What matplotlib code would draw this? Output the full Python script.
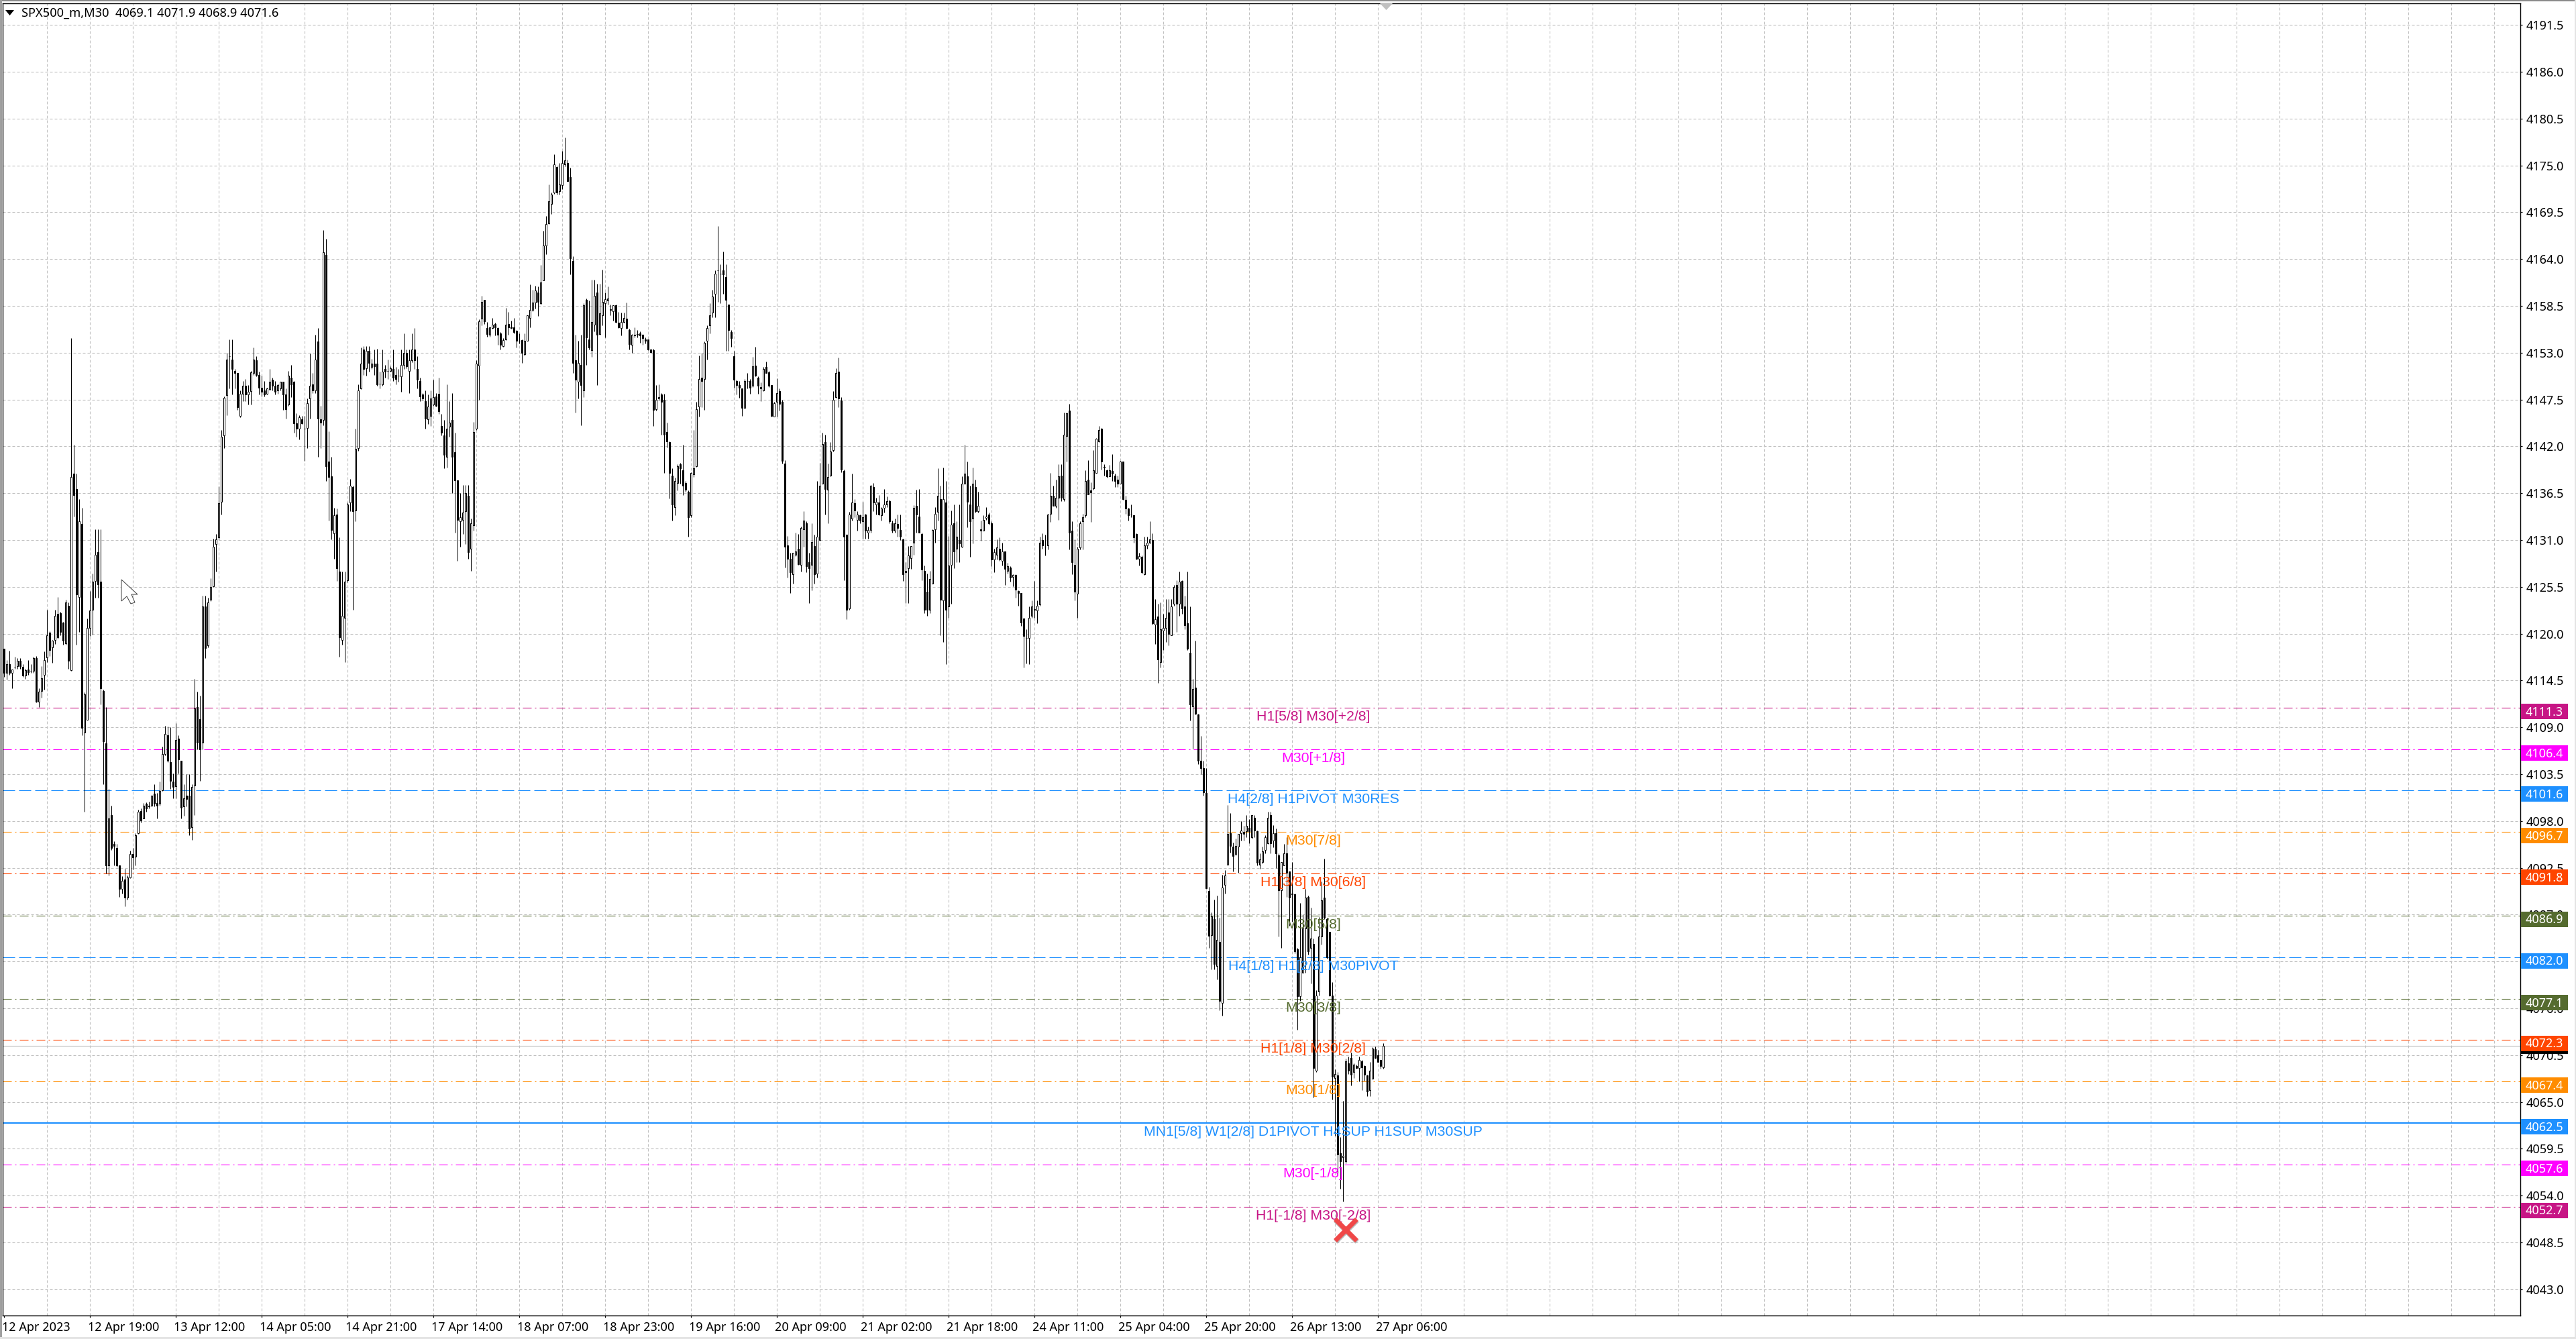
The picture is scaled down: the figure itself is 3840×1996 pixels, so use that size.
# SPX500 M30 candles with murrey math levels, MT4 style

import matplotlib
matplotlib.use('Agg')
import matplotlib.pyplot as plt
from matplotlib.patches import Polygon, Rectangle
from matplotlib.transforms import IdentityTransform, ScaledTranslation

# candles in four stretches
open_a = [4118.2,4115.4,4116.4,4115.4,4116.1,4116.2,4116.8,4116.1,4115.1,4115.8,
 4115.6,4115.6,4117.1,4112.0,4113.3,4115.2,4117.2,4120.1,4118.4,4119.3,
 4122.3,4122.4,4121.3,4118.9,4123.3,4115.7,4138.8,4137.0,4124.3,4132.9,
 4108.4,4109.9,4120.7,4122.8,4126.2,4129.6,4126.1,4113.3,4107.1,4092.8,
 4098.7,4095.3,4094.8,4092.8,4090.0,4091.1,4089.0,4091.4,4094.1,4093.8,
 4096.6,4099.2,4098.3,4100.0,4099.8,4099.8,4101.2,4100.1,4100.0,4101.6,
 4105.9,4108.1,4104.9,4102.6,4102.1,4107.7,4105.1,4099.7,4101.0,4101.0,
 4097.3,4102.2,4111.4,4110.0,4107.2,4123.2,4118.6,4124.0,4125.6,4130.5,
 4131.3,4135.5,4143.3,4148.0,4152.6,4152.2,4150.9,4150.6,4145.6,4148.2,
 4149.1,4148.1,4148.5,4150.6,4152.1,4150.4,4148.9,4148.6,4148.2,4148.7,
 4149.8,4149.1,4148.6,4148.8,4149.6,4148.1,4146.9,4150.1,4149.6,4144.7,
 4144.1,4145.2,4144.1,4144.2,4147.6,4149.3,4148.6,4154.3,4145.2,4145.1,
 4164.5,4140.2,4138.5,4131.8,4134.0,4127.3,4119.3,4121.9,4126.3,4135.4,
 4137.2,4134.5,4141.8,4148.8,4153.4,4151.2,4153.2,4151.3,4151.7,4151.7,
 4149.4,4149.3,4151.1,4150.9,4150.9,4151.1,4150.4,4150.3,4150.2,4151.6,
 4153.0,4150.9,4152.1,4153.4,4151.1,4149.7,4148.1,4147.3,4145.2,4145.6,
 4146.9,4147.9,4148.2,4144.4,4143.3,4140.8,4144.3,4145.1,4141.3,4138.0,
 4133.2,4133.4,4134.4,4136.2]
high_a = [4118.2,4116.9,4118.0,4115.8,4117.3,4117.1,4117.1,4116.4,4115.9,4116.9,
 4116.4,4117.3,4117.4,4113.6,4116.2,4117.9,4122.8,4120.3,4119.3,4122.8,
 4124.3,4122.6,4121.4,4124.0,4123.7,4154.7,4142.2,4138.8,4135.8,4134.8,
 4113.1,4121.8,4125.0,4127.1,4132.3,4132.3,4132.3,4113.4,4111.4,4101.8,
 4099.8,4095.6,4095.3,4092.8,4091.5,4092.4,4091.6,4094.5,4094.8,4096.6,
 4099.3,4099.5,4100.1,4100.2,4100.3,4101.0,4102.3,4101.3,4102.6,4106.7,
 4109.2,4109.1,4109.0,4103.6,4109.5,4108.1,4105.1,4102.3,4103.5,4103.5,
 4102.3,4114.7,4113.2,4112.7,4124.5,4124.5,4124.2,4126.5,4131.2,4131.7,
 4137.3,4143.9,4147.9,4153.0,4154.6,4154.6,4151.1,4150.6,4148.6,4149.7,
 4149.9,4149.2,4150.9,4153.6,4152.6,4150.8,4150.3,4149.7,4148.9,4151.1,
 4150.1,4149.7,4149.4,4149.6,4149.6,4148.8,4150.9,4151.6,4149.7,4145.9,
 4145.7,4145.6,4145.6,4147.6,4152.9,4150.6,4155.1,4155.9,4146.8,4167.4,
 4166.4,4143.8,4140.8,4134.8,4134.7,4131.3,4127.3,4127.3,4135.4,4138.2,
 4137.4,4144.1,4149.3,4153.6,4153.8,4153.8,4153.8,4152.3,4153.4,4153.5,
 4150.8,4153.4,4151.6,4152.2,4151.4,4153.4,4151.3,4151.1,4153.4,4155.3,
 4153.4,4153.4,4155.3,4155.9,4152.6,4150.1,4148.3,4148.6,4148.1,4148.6,
 4149.8,4148.3,4150.1,4145.8,4145.1,4149.3,4147.3,4148.3,4143.6,4138.0,
 4136.5,4137.5,4137.5,4137.5]
low_a = [4114.9,4114.6,4115.2,4113.6,4115.9,4115.9,4115.9,4114.9,4114.7,4115.2,
 4115.4,4115.4,4111.9,4111.4,4112.5,4113.4,4116.7,4117.4,4116.6,4118.8,
 4119.4,4119.8,4118.7,4118.7,4115.9,4115.6,4133.8,4118.7,4120.2,4108.1,
 4099.1,4109.9,4119.7,4119.9,4124.2,4124.2,4111.7,4102.3,4091.8,4091.6,
 4094.6,4092.8,4092.6,4089.1,4089.5,4088.0,4088.8,4091.3,4092.3,4092.8,
 4096.5,4097.8,4098.3,4099.1,4099.5,4099.7,4099.7,4098.3,4099.8,4101.5,
 4105.7,4104.9,4101.8,4100.7,4100.7,4103.6,4098.3,4098.6,4099.7,4096.3,
 4095.8,4098.7,4106.4,4102.7,4106.4,4117.1,4118.4,4123.8,4125.5,4127.3,
 4131.1,4134.0,4141.8,4145.7,4148.8,4148.1,4148.8,4146.3,4145.4,4147.3,
 4147.3,4146.9,4146.9,4150.4,4150.2,4148.1,4147.9,4147.9,4148.1,4148.6,
 4148.6,4148.1,4148.2,4148.6,4146.3,4145.3,4146.8,4147.8,4143.6,4143.1,
 4142.8,4144.6,4140.3,4141.8,4145.3,4148.3,4148.3,4140.8,4141.8,4144.5,
 4137.9,4133.3,4131.1,4128.8,4126.2,4117.3,4118.7,4116.7,4126.0,4134.4,
 4122.8,4133.2,4141.5,4148.7,4150.4,4150.3,4150.8,4151.1,4150.4,4149.1,
 4148.8,4149.1,4150.1,4149.9,4150.8,4149.7,4149.3,4149.6,4148.4,4151.1,
 4151.2,4148.3,4151.9,4151.1,4148.8,4147.3,4147.4,4144.1,4144.6,4144.4,
 4146.8,4146.7,4145.8,4143.3,4139.4,4139.5,4143.1,4136.5,4131.9,4128.6,
 4130.2,4131.7,4130.5,4128.8]
close_a = [4115.4,4116.4,4115.4,4115.8,4116.1,4116.8,4116.2,4115.1,4115.7,4115.5,
 4115.6,4117.1,4112.0,4113.2,4114.8,4116.9,4119.8,4118.1,4119.2,4122.1,
 4119.6,4120.2,4119.2,4123.7,4116.8,4138.4,4136.3,4124.6,4133.2,4108.9,
 4112.9,4120.7,4122.7,4126.1,4129.3,4125.8,4113.6,4107.4,4092.8,4098.3,
 4094.8,4095.1,4092.8,4090.0,4091.0,4089.0,4091.4,4094.1,4093.7,4096.3,
 4099.1,4098.1,4099.8,4099.5,4099.7,4101.0,4100.0,4099.8,4101.5,4105.9,
 4108.2,4105.1,4102.7,4102.0,4107.5,4105.2,4099.6,4100.7,4100.6,4097.1,
 4102.0,4111.2,4107.2,4106.4,4123.2,4118.3,4123.7,4125.5,4130.2,4131.1,
 4135.3,4143.1,4147.7,4152.2,4152.6,4151.1,4150.6,4146.6,4148.2,4149.1,
 4148.1,4148.4,4150.7,4152.2,4150.4,4148.9,4148.4,4148.1,4148.8,4149.6,
 4149.1,4148.4,4149.2,4149.6,4148.1,4146.4,4150.3,4149.3,4144.7,4144.1,
 4145.4,4144.7,4144.1,4147.1,4149.1,4148.6,4152.2,4145.3,4144.8,4164.8,
 4139.7,4138.4,4132.2,4133.9,4127.7,4119.6,4122.1,4126.1,4135.2,4137.4,
 4134.4,4141.7,4148.6,4151.7,4151.1,4153.2,4151.8,4151.7,4151.4,4149.3,
 4149.4,4150.8,4150.8,4150.9,4151.2,4150.1,4149.9,4150.3,4151.6,4153.0,
 4151.4,4152.1,4153.4,4152.1,4149.8,4147.9,4147.6,4145.3,4146.7,4147.6,
 4147.8,4146.8,4146.1,4143.6,4141.0,4144.1,4144.8,4140.8,4138.0,4133.4,
 4133.7,4134.2,4136.5,4129.6]

open_b = [4130.0,4132.7,4144.1,4151.5,4157.0,4159.2,4155.9,4155.1,4155.9,4156.4,
 4155.9,4155.3,4153.8,4154.6,4156.4,4156.1,4156.0,4155.6,4154.4,4154.5,
 4152.8,4154.4,4157.1,4158.0,4158.9,4160.1,4158.8,4161.5,4165.6,4168.2,
 4170.5,4171.8,4174.8,4172.0,4172.7,4175.1,4175.3,4173.6,4163.8,4152.1,
 4149.6,4151.6,4148.6,4159.2,4154.6,4153.3,4156.3,4160.1,4155.2,4157.4,
 4158.8,4159.1,4158.1,4157.9,4158.6,4156.5,4155.9,4156.6,4157.0,4155.7,
 4153.9,4155.1,4155.2,4155.3,4155.1,4154.6,4154.6,4153.4,4153.3,4146.4,
 4147.6,4148.1,4147.5,4143.7,4142.5,4138.6,4134.9,4137.7,4139.9,4139.2,
 4137.7,4136.7,4133.9,4138.7,4139.7,4146.7,4150.1,4149.9,4154.4,4156.2,
 4157.7,4159.9,4162.7,4162.3,4162.7,4161.9,4158.7,4155.4,4152.6,4149.7,
 4149.2,4148.8,4146.5,4149.7,4149.7,4149.1,4151.5,4150.1,4149.0,4148.6,
 4151.3,4150.7,4149.2,4145.5,4147.2,4148.5,4147.2,4140.0,4130.4,4128.8,
 4127.0,4129.3,4130.0,4128.1,4132.3,4133.0,4128.4,4128.1,4130.3,4127.1,
 4131.0,4137.6,4142.5,4136.9,4138.6,4141.6,4147.8,4150.8,4147.4,4139.1,
 4131.6,4123.0,4133.5,4135.3,4133.4,4133.9,4133.2,4134.0,4131.9,4132.2,
 4137.2,4135.2,4135.4,4133.9,4134.8,4135.2,4135.6,4133.0,4132.1,4132.9,
 4132.2,4131.1,4127.4,4127.7,4128.9,4130.7,4135.0,4133.8,4131.7,4127.4,
 4124.9,4122.8,4125.9,4132.3,4134.3]
high_b = [4133.5,4144.9,4152.1,4156.9,4159.7,4159.2,4156.6,4156.1,4157.1,4156.5,
 4156.0,4155.4,4154.7,4158.3,4157.8,4156.8,4157.1,4155.7,4155.3,4154.6,
 4155.3,4157.4,4161.0,4160.4,4160.9,4160.8,4163.3,4167.3,4169.1,4172.8,
 4171.8,4176.3,4174.9,4175.3,4176.7,4178.3,4175.7,4174.7,4164.3,4155.1,
 4154.4,4155.1,4158.8,4159.4,4159.1,4161.6,4161.6,4161.1,4161.1,4162.8,
 4160.1,4160.8,4158.7,4158.6,4158.7,4157.8,4157.7,4157.7,4158.9,4155.8,
 4155.2,4156.0,4155.7,4155.5,4155.2,4154.8,4154.6,4153.5,4153.5,4149.2,
 4149.3,4148.3,4148.2,4144.8,4142.6,4139.4,4138.3,4139.9,4140.1,4142.2,
 4137.9,4136.8,4139.0,4143.9,4147.2,4152.7,4153.0,4154.3,4156.2,4158.8,
 4160.4,4162.7,4167.9,4163.4,4164.9,4163.4,4158.7,4155.7,4153.2,4149.8,
 4149.7,4148.8,4149.9,4150.6,4149.9,4152.5,4153.7,4150.2,4149.5,4151.3,
 4152.0,4150.9,4149.2,4147.2,4150.0,4148.8,4147.5,4140.4,4131.5,4129.5,
 4129.5,4131.9,4131.7,4132.6,4134.4,4133.2,4129.5,4133.0,4131.6,4137.9,
 4140.1,4143.6,4143.4,4140.0,4142.5,4148.5,4151.2,4152.4,4147.8,4139.3,
 4131.6,4134.3,4138.8,4135.8,4134.4,4134.0,4135.5,4134.1,4132.6,4137.5,
 4137.7,4136.0,4136.3,4134.9,4137.0,4136.1,4135.7,4133.3,4133.5,4134.0,
 4134.0,4131.2,4128.4,4130.3,4130.3,4135.1,4136.9,4137.0,4131.9,4128.0,
 4127.1,4127.4,4132.3,4134.9,4139.4]
low_b = [4127.4,4132.1,4143.9,4147.5,4156.2,4156.4,4154.9,4154.9,4155.8,4155.0,
 4153.9,4153.4,4153.7,4154.5,4155.1,4155.8,4155.3,4153.6,4154.1,4151.8,
 4152.7,4154.4,4156.0,4157.9,4158.2,4157.3,4158.7,4161.5,4164.6,4168.1,
 4169.3,4171.7,4171.6,4171.6,4172.2,4174.9,4173.2,4162.2,4150.6,4146.0,
 4147.6,4144.5,4147.8,4151.6,4153.4,4152.5,4155.5,4149.2,4155.1,4156.2,
 4154.8,4158.7,4157.4,4156.8,4156.5,4155.9,4155.0,4156.5,4155.8,4153.4,
 4153.0,4154.8,4154.8,4154.2,4153.9,4154.1,4153.3,4153.0,4144.4,4146.2,
 4147.4,4143.4,4138.9,4141.9,4135.9,4133.3,4133.9,4136.8,4137.6,4136.3,
 4136.7,4131.4,4133.7,4138.4,4139.6,4145.5,4146.6,4146.3,4152.2,4155.3,
 4157.2,4157.2,4159.0,4158.8,4159.9,4153.2,4153.2,4153.7,4148.9,4148.1,
 4147.7,4145.6,4146.5,4148.8,4148.2,4149.0,4150.2,4148.2,4147.3,4148.5,
 4150.6,4149.0,4145.5,4145.5,4145.5,4146.2,4140.0,4127.8,4126.6,4124.8,
 4125.9,4129.1,4128.1,4127.3,4130.2,4127.2,4123.6,4125.1,4125.9,4126.6,
 4130.9,4137.6,4134.0,4133.0,4138.5,4141.4,4147.7,4146.6,4139.0,4126.3,
 4121.7,4122.8,4133.3,4133.7,4132.1,4133.0,4131.2,4131.2,4131.2,4131.9,
 4134.4,4134.0,4133.9,4133.3,4134.2,4134.9,4133.0,4131.9,4131.9,4131.4,
 4131.0,4126.2,4123.6,4123.6,4127.6,4129.3,4131.9,4131.9,4126.3,4122.4,
 4122.1,4122.4,4125.9,4130.7,4133.3]
close_b = [4133.0,4143.7,4151.7,4156.7,4159.0,4156.7,4155.2,4156.0,4156.3,4156.0,
 4155.1,4153.9,4154.5,4156.3,4156.0,4155.9,4155.4,4154.4,4154.4,4153.0,
 4154.4,4157.4,4158.0,4158.9,4160.3,4159.0,4161.3,4165.6,4168.1,4170.8,
 4171.6,4175.1,4171.8,4172.8,4175.3,4175.6,4173.2,4164.1,4151.8,4149.8,
 4151.8,4149.2,4158.6,4154.8,4153.6,4156.6,4159.7,4155.1,4157.6,4159.0,
 4159.3,4159.4,4158.0,4158.6,4156.6,4156.0,4156.6,4157.1,4155.9,4154.0,
 4155.1,4155.0,4155.1,4155.0,4154.7,4154.4,4153.4,4153.1,4146.3,4147.5,
 4147.8,4147.2,4143.4,4142.6,4138.9,4135.2,4137.9,4139.7,4139.4,4137.4,
 4136.9,4133.7,4138.9,4139.4,4146.4,4149.9,4149.7,4154.2,4155.9,4157.4,
 4159.6,4162.3,4162.7,4162.3,4162.2,4159.2,4155.7,4154.7,4149.8,4149.2,
 4148.9,4146.5,4149.7,4149.7,4148.9,4151.4,4150.3,4149.1,4148.8,4151.1,
 4150.6,4149.1,4145.6,4147.1,4148.3,4147.0,4140.3,4130.2,4128.8,4127.2,
 4129.5,4129.7,4128.2,4132.4,4133.3,4127.9,4127.7,4130.8,4127.0,4131.4,
 4137.4,4142.3,4137.0,4138.4,4141.4,4147.5,4150.6,4147.6,4139.3,4131.4,
 4122.8,4134.0,4135.4,4134.5,4134.0,4133.3,4133.7,4132.1,4132.2,4137.4,
 4135.4,4135.5,4134.0,4134.7,4135.2,4135.6,4133.2,4132.1,4133.0,4132.4,
 4131.4,4127.0,4127.2,4129.2,4130.3,4134.8,4134.0,4131.9,4127.5,4122.8,
 4122.8,4126.4,4132.2,4134.1,4136.2]

open_c = [4135.8,4123.9,4135.4,4123.2,4128.1,4133.0,4130.0,4131.0,4130.2,4137.6,
 4138.5,4135.2,4133.5,4137.2,4134.4,4132.3,4132.1,4133.6,4134.0,4133.0,
 4128.7,4129.3,4130.0,4128.6,4129.7,4127.4,4127.8,4126.7,4126.9,4125.0,
 4124.8,4121.8,4119.5,4119.5,4122.1,4122.8,4122.7,4123.4,4131.0,4130.2,
 4130.4,4134.1,4136.2,4135.0,4136.0,4138.6,4135.8,4143.2,4146.2,4132.1,
 4128.1,4124.7,4130.1,4133.2,4133.9,4138.1,4136.8,4137.1,4138.9,4142.6,
 4144.1,4139.5,4139.2,4138.5,4139.1,4138.6,4138.1,4137.6,4140.2,4135.7,
 4134.7,4134.0,4133.9,4131.7,4128.8,4129.0,4127.0,4130.4,4130.7,4131.0,
 4121.1,4122.0,4116.7,4120.4,4120.7,4122.5,4119.8,4123.5,4125.7,4123.5,
 4126.2,4123.2,4121.2,4117.8,4111.5,4113.7,4110.5,4105.1,4104.2]
high_c = [4137.4,4139.5,4137.9,4131.5,4134.5,4135.2,4133.2,4135.2,4138.5,4142.2,
 4140.2,4137.4,4139.5,4138.1,4136.7,4133.3,4133.9,4134.9,4134.2,4133.2,
 4130.0,4131.1,4131.3,4130.7,4129.7,4128.3,4127.9,4127.0,4127.0,4125.1,
 4124.8,4121.9,4120.5,4123.2,4123.9,4126.2,4123.9,4131.4,4131.8,4131.6,
 4134.1,4138.9,4137.4,4138.1,4139.9,4139.9,4146.0,4146.0,4147.0,4133.2,
 4131.1,4130.2,4133.2,4134.1,4139.2,4140.4,4137.8,4141.6,4143.0,4144.4,
 4144.2,4139.9,4139.3,4139.8,4141.1,4138.8,4138.6,4140.3,4140.2,4136.2,
 4134.8,4135.2,4133.9,4131.8,4129.5,4129.2,4131.4,4131.4,4133.2,4131.8,
 4124.1,4123.5,4123.7,4122.3,4124.1,4124.1,4124.1,4125.7,4126.3,4127.3,
 4126.3,4124.5,4127.3,4123.2,4114.7,4119.2,4110.6,4108.0,4105.1]
low_c = [4119.8,4119.0,4116.4,4121.9,4123.5,4127.7,4128.4,4128.4,4130.1,4137.6,
 4132.5,4129.0,4130.6,4134.2,4134.2,4130.9,4132.1,4133.4,4132.8,4127.9,
 4127.2,4128.7,4128.6,4128.0,4125.7,4127.1,4126.1,4125.6,4124.2,4123.3,
 4120.9,4116.0,4116.5,4116.4,4121.9,4121.9,4121.2,4123.3,4130.0,4129.2,
 4129.9,4133.1,4135.0,4134.8,4133.4,4135.6,4135.6,4140.2,4129.9,4127.0,
 4123.9,4121.9,4129.9,4129.9,4133.7,4136.4,4133.1,4136.9,4138.9,4142.5,
 4139.3,4138.6,4138.3,4138.5,4137.9,4137.2,4137.2,4137.6,4135.7,4134.1,
 4133.3,4133.7,4130.7,4128.7,4128.0,4127.1,4126.9,4130.0,4130.6,4121.1,
 4118.8,4114.2,4116.0,4118.1,4119.0,4118.6,4119.8,4123.3,4120.2,4122.1,
 4122.3,4120.5,4118.1,4109.8,4106.5,4110.5,4104.7,4103.5,4101.0]
close_c = [4124.0,4135.8,4122.8,4128.0,4132.8,4129.7,4131.4,4130.6,4137.6,4138.8,
 4135.5,4133.2,4137.6,4134.4,4135.0,4132.1,4133.4,4133.8,4133.0,4128.7,
 4129.6,4130.1,4128.7,4129.7,4127.6,4127.9,4126.6,4126.9,4125.2,4124.8,
 4121.3,4119.7,4119.5,4121.9,4123.2,4122.9,4123.3,4130.7,4130.4,4130.2,
 4134.0,4136.2,4135.0,4136.0,4138.5,4136.0,4143.4,4145.9,4131.9,4128.4,
 4124.9,4130.0,4133.0,4133.7,4137.9,4136.4,4136.6,4139.2,4142.9,4143.9,
 4140.2,4139.6,4138.5,4139.2,4138.8,4137.9,4137.6,4140.2,4135.8,4134.7,
 4133.9,4134.0,4131.3,4128.8,4129.1,4127.2,4130.4,4130.7,4131.1,4121.2,
 4121.7,4117.0,4120.5,4120.7,4121.9,4120.0,4123.2,4125.5,4123.5,4126.1,
 4123.0,4121.0,4118.2,4111.7,4113.5,4110.6,4105.1,4104.2,4101.4]

open_d = [4101.3,4089.8,4084.6,4086.5,4081.0,4083.8,4076.6,4090.5,4092.9,4096.6,
 4095.0,4094.1,4095.0,4096.6,4096.7,4096.8,4097.2,4096.1,4098.4,4096.8,
 4092.9,4093.2,4094.6,4095.4,4098.7,4095.7,4096.6,4094.0,4089.9,4092.8,
 4094.2,4092.1,4089.5,4089.4,4082.9,4077.4,4080.2,4085.4,4089.1,4083.1,
 4083.6,4068.7,4078.0,4084.4,4089.0,4086.5,4085.0,4077.5,4067.8,4068.1,
 4059.0,4058.5,4058.0,4069.5,4070.2,4068.5,4069.2,4069.0,4069.8,4069.2,
 4068.1,4066.4,4067.7,4071.2,4070.5,4069.9,4069.1]
high_d = [4104.2,4090.3,4087.3,4088.8,4089.2,4086.6,4091.7,4092.2,4099.9,4098.9,
 4095.5,4095.9,4096.5,4098.0,4097.4,4098.7,4098.2,4098.7,4098.7,4096.9,
 4094.2,4095.0,4096.3,4099.1,4099.1,4097.5,4097.1,4094.2,4093.2,4095.3,
 4096.1,4092.1,4093.2,4089.5,4083.1,4088.4,4087.0,4090.0,4089.2,4087.8,
 4084.2,4078.1,4086.7,4090.9,4093.6,4086.6,4085.0,4079.1,4068.8,4068.5,
 4060.9,4065.1,4070.1,4070.3,4070.8,4069.5,4069.4,4070.3,4069.9,4069.3,
 4068.2,4069.7,4071.4,4071.5,4071.1,4069.9,4071.9]
low_d = [4090.0,4083.1,4080.6,4080.6,4079.4,4075.8,4075.1,4089.5,4092.9,4094.3,
 4092.1,4094.0,4091.9,4095.7,4095.7,4096.1,4095.4,4095.9,4096.1,4092.8,
 4092.4,4093.0,4094.2,4095.3,4094.2,4094.9,4092.5,4084.4,4083.1,4092.8,
 4089.1,4085.7,4086.2,4082.5,4073.5,4076.9,4080.2,4080.2,4082.3,4078.9,
 4065.5,4068.5,4077.5,4083.5,4086.5,4081.8,4077.4,4065.3,4061.0,4056.4,
 4054.8,4053.3,4057.8,4068.3,4066.9,4067.8,4068.9,4067.4,4066.4,4067.5,
 4065.7,4065.7,4067.7,4070.1,4069.7,4068.9,4068.9]
close_d = [4090.1,4084.5,4086.8,4081.2,4084.0,4076.9,4090.2,4091.6,4096.5,4095.1,
 4093.9,4095.1,4096.5,4096.9,4096.5,4097.4,4096.8,4098.7,4096.9,4093.1,
 4093.5,4094.4,4096.1,4098.4,4095.4,4096.6,4094.2,4089.9,4093.2,4094.2,
 4091.9,4089.0,4089.4,4082.7,4077.4,4082.0,4085.4,4089.0,4082.7,4084.2,
 4069.0,4077.5,4084.4,4088.7,4086.6,4082.0,4077.5,4068.0,4068.3,4058.8,
 4058.0,4058.7,4069.8,4068.7,4068.2,4069.4,4069.0,4069.9,4069.1,4068.2,
 4066.2,4068.7,4071.3,4070.2,4069.7,4069.2,4071.6]

opens = open_a + open_b + open_c + open_d
highs = high_a + high_b + high_c + high_d
lows = low_a + low_b + low_c + low_d
closes = close_a + close_b + close_c + close_d

time_labels = ['12 Apr 2023', '12 Apr 19:00', '13 Apr 12:00', '14 Apr 05:00', '14 Apr 21:00',
               '17 Apr 14:00', '18 Apr 07:00', '18 Apr 23:00', '19 Apr 16:00', '20 Apr 09:00',
               '21 Apr 02:00', '21 Apr 18:00', '24 Apr 11:00', '25 Apr 04:00', '25 Apr 20:00',
               '26 Apr 13:00', '27 Apr 06:00']
price_ticks = [4191.5, 4186.0, 4180.5, 4175.0, 4169.5, 4164.0, 4158.5, 4153.0, 4147.5, 4142.0,
               4136.5, 4131.0, 4125.5, 4120.0, 4114.5, 4109.0, 4103.5, 4098.0, 4092.5, 4087.0,
               4081.5, 4076.0, 4070.5, 4065.0, 4059.5, 4054.0, 4048.5, 4043.0]

level_prices = [4111.3, 4106.4, 4101.6, 4096.7, 4091.8, 4086.9, 4082.0,
                4077.1, 4072.3, 4067.4, 4062.5, 4057.6, 4052.7]
level_names = ['H1[5/8] M30[+2/8]', 'M30[+1/8]', 'H4[2/8] H1PIVOT M30RES', 'M30[7/8]',
               'H1[3/8] M30[6/8]', 'M30[5/8]', 'H4[1/8] H1[2/8] M30PIVOT', 'M30[3/8]',
               'H1[1/8] M30[2/8]', 'M30[1/8]', 'MN1[5/8] W1[2/8] D1PIVOT H4SUP H1SUP M30SUP',
               'M30[-1/8]', 'H1[-1/8] M30[-2/8]']
level_colors = ['#C71585', '#FF00FF', '#1E90FF', '#FF8C00', '#FF4500', '#556B2F', '#1E90FF',
                '#556B2F', '#FF4500', '#FF8C00', '#1E90FF', '#FF00FF', '#C71585']
last_price = 4071.6

W, H = 3840, 1996
PX = 72 / 100  # one pixel in points
plt.rcParams['lines.scale_dashes'] = False

fig = plt.figure(figsize=(W / 100, H / 100), dpi=100, facecolor='white')
left, right, top, bottom = 3.6, 3756.5, 4.5, 1961
ax = fig.add_axes([left / W, 1 - bottom / H, (right - left) / W, (bottom - top) / H])

# bar i sits at pixel 5.5 + 4*i, price scale is 12.69 px a point
ax.set_xlim((left - 5.5) / 4, (right - 5.5) / 4)
ax.set_ylim(4191.5 - (bottom - 37.3) / 12.69, 4191.5 - (top - 37.3) / 12.69)

grid_style = dict(color='#c0c0c0', lw=1.1 * PX, dashes=(4 * PX, 3 * PX), zorder=1)
for xg in range(16, 938, 16):
    ax.axvline(xg, **grid_style)
for yg in price_ticks:
    ax.axhline(yg, **grid_style)

dash_dot = (13 * PX, 5 * PX, 2 * PX, 5 * PX)
long_dash = (18 * PX, 6 * PX)
for price, color in zip(level_prices, level_colors):
    if price == 4062.5:
        ax.axhline(price, color=color, lw=2.2 * PX, zorder=2)
    elif color == '#1E90FF':
        ax.axhline(price, color=color, lw=1.1 * PX, dashes=long_dash, zorder=2)
    else:
        ax.axhline(price, color=color, lw=1.1 * PX, dashes=dash_dot, zorder=2)
ax.axhline(last_price, color='#c0c0c0', lw=1.1 * PX, zorder=2)

xs = list(range(len(closes)))
ax.vlines(xs, lows, highs, color='black', lw=1.0 * PX, zorder=3)
up = [i for i in xs if closes[i] >= opens[i]]
down = [i for i in xs if closes[i] < opens[i]]
ax.bar(up, [closes[i] - opens[i] for i in up], bottom=[opens[i] for i in up], width=0.5,
       facecolor='white', edgecolor='black', linewidth=1.0 * PX, zorder=4)
ax.bar(down, [closes[i] - opens[i] for i in down], bottom=[opens[i] for i in down], width=0.5,
       facecolor='black', edgecolor='black', linewidth=1.0 * PX, zorder=4)

# text of the levels sits just under each line
for price, name, color in zip(level_prices, level_names, level_colors):
    ax.annotate(name, xy=(488, price), xytext=(0, -13.5), textcoords='offset pixels',
                ha='center', va='center', color=color, fontsize=15.3,
                family='Liberation Sans', zorder=6)

ax.plot([500.4], [4049.85], marker='x', ms=23, mew=5.5, color='#b8b8b8', zorder=6)
ax.plot([500], [4050.0], marker='x', ms=23, mew=5, color='#f04848', zorder=7)

for side in ['left', 'right', 'top', 'bottom']:
    ax.spines[side].set_linewidth(1.4 * PX)
    ax.spines[side].set_color('black')
    ax.spines[side].set_zorder(8)

ax.yaxis.tick_right()
ax.set_yticks(price_ticks)
ax.set_yticklabels(['%.1f' % p for p in price_ticks], family='Noto Sans', fontsize=13)
ax.tick_params(axis='y', length=3 * PX, width=1.2 * PX, pad=6 * PX, direction='out')
ax.set_xticks([i * 32 for i in range(len(time_labels))])
ax.set_xticklabels(time_labels, family='Noto Sans', fontsize=13, ha='left')
ax.tick_params(axis='x', length=3 * PX, width=1.2 * PX, pad=6 * PX, direction='out')
shift = ScaledTranslation(-2.5 / 100, 0, fig.dpi_scale_trans)
for lbl in ax.get_xticklabels():
    lbl.set_transform(lbl.get_transform() + shift)

# price tags, black one for the last price lies under the orange tag
to_fig = IdentityTransform()
def tag(price, color, text, drop=17):
    y = ax.transData.transform((0, price))[1]
    fig.add_artist(Rectangle((3758, y - drop), 70, 23, facecolor=color, edgecolor='none',
                             transform=to_fig, zorder=5))
    if text:
        fig.text(3793 / W, (y - 6.5) / H, text, color='white', ha='center', va='center',
                 family='Noto Sans', fontsize=13, zorder=6)

tag(last_price, 'black', '', drop=12)
for price, color in zip(level_prices, level_colors):
    tag(price, color, '%.1f' % price)

# window furniture in screen pixels
def flip(points):
    return [(x, H - y) for x, y in points]

furniture = [([(0, 0), (W, 0), (W, 2), (0, 2)], '#8a8a8a'),
             ([(0, 0), (2.5, 0), (2.5, H), (0, H)], '#a0a0a0'),
             ([(0, H - 3), (W, H - 3), (W, H), (0, H)], '#e4e4e4'),
             ([(W - 2, 0), (W, 0), (W, H), (W - 2, H)], '#e4e4e4'),
             ([(2057, 5), (2076, 5), (2066.5, 15)], '#c0c0c0'),
             ([(8, 15), (21, 15), (14.5, 23)], 'black')]
for points, color in furniture:
    fig.add_artist(Polygon(flip(points), closed=True, facecolor=color, edgecolor='none',
                           transform=to_fig, zorder=9))

fig.add_artist(Polygon(flip([(181, 864), (181, 896), (189, 889), (195, 900), (201, 898),
                             (196, 886), (205, 886)]), closed=True, facecolor='white',
                       edgecolor='#404040', linewidth=1 * PX, transform=to_fig, zorder=9))

fig.text(32 / W, 1 - 19.5 / H, 'SPX500_m,M30  4069.1 4071.9 4068.9 4071.6', color='black',
         family='Noto Sans', fontsize=13.15, ha='left', va='center', zorder=9)

fig.savefig('out.png', dpi=100, facecolor='white')
